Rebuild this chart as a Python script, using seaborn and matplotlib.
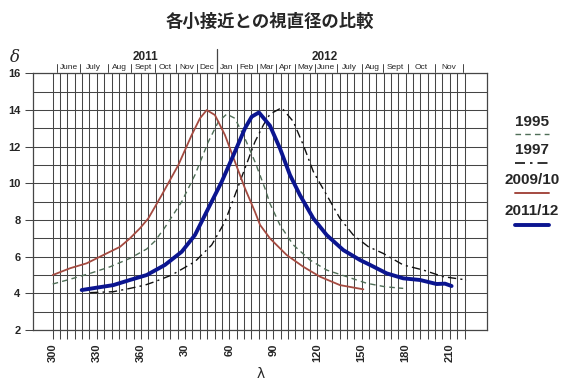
import numpy as np
import pandas as pd
import matplotlib
matplotlib.use("Agg")
import matplotlib.pyplot as plt
from matplotlib.lines import Line2D
import seaborn as sns

# --- data (lambda unwrapped: 300..360 then 360+) ---
lam_1995 = [300, 311.8, 325.4, 339, 352.5, 363.9, 369.5, 376.3, 387.7, 396.7, 405.8, 412.6, 418.3,
            423.9, 430.7, 437.5, 444.3, 447.7, 454.5, 463.6, 474.9, 486.3, 499.9, 513.5, 525.9, 538.3]
del_1995 = [4.51, 4.77, 5.09, 5.45, 5.91, 6.42, 6.85, 7.6, 9.0, 10.46, 12.27, 13.36, 13.78,
            13.55, 12.45, 11.18, 9.73, 8.9, 7.73, 6.64, 5.82, 5.27, 4.91, 4.55, 4.36, 4.27]

lam_1997 = [325.4, 341.2, 352.5, 362.7, 369.5, 380.9, 396.7, 408.1, 417.1, 423.9, 430.7, 437.5, 443.2,
            447.7, 455.7, 463.6, 470.4, 477.2, 486.3, 495.3, 504.4, 514.5, 524.7, 538.3, 552, 565.5, 581.4]
del_1997 = [4.04, 4.09, 4.27, 4.45, 4.64, 5.0, 5.73, 6.64, 7.91, 9.36, 10.82, 12.27, 13.18,
            13.78, 14.13, 13.37, 12.09, 10.64, 9.36, 8.09, 7.18, 6.55, 6.18, 5.55, 5.27, 4.91, 4.73]

lam_2009 = [300, 311.8, 323.1, 334.4, 345.8, 352.5, 359.3, 365, 374.1, 385.4, 394.5, 400.1, 404.7,
            410.3, 417.1, 423.9, 430.7, 437.5, 441, 447.7, 459.1, 470.4, 481.7, 495.3, 511.2]
del_2009 = [5.0, 5.37, 5.64, 6.09, 6.54, 7.0, 7.55, 8.09, 9.36, 11.0, 12.64, 13.55, 14.0,
            13.73, 12.64, 11.18, 9.73, 8.45, 7.73, 7.0, 6.09, 5.45, 4.91, 4.45, 4.22]

lam_2011 = [319.7, 329.9, 341.2, 352.5, 363.9, 376.3, 387.7, 396.7, 405.8, 414.9, 423.9, 430.7, 435.3,
            440.2, 447.7, 454.5, 461.3, 468.1, 477.2, 486.3, 497.6, 508.9, 515.8, 527.1, 538.3, 549.7,
            561, 566.7, 571.2]
del_2011 = [4.18, 4.31, 4.45, 4.73, 5.0, 5.55, 6.27, 7.18, 8.64, 10.09, 11.73, 13.0, 13.64,
            13.87, 13.15, 11.91, 10.46, 9.36, 8.09, 7.18, 6.36, 5.82, 5.55, 5.09, 4.82, 4.73,
            4.51, 4.53, 4.4]

tick_vals = [300, 330, 360, 390, 420, 450, 480, 510, 540, 570]
tick_labels = ["300", "330", "360", "30", "60", "90", "120", "150", "180", "210"]

month_names = ["June", "July", "Aug", "Sept", "Oct", "Nov", "Dec", "Jan", "Feb", "Mar", "Apr", "May",
               "June", "July", "Aug", "Sept", "Oct", "Nov"]
month_edges = [303.1, 318.6, 337.4, 353.2, 369.5, 383.8, 397.9, 411.5, 425.1, 438.7, 452.0, 465.0,
               478.6, 493.5, 510.1, 524.7, 541.7, 559.9, 578.7]
year_names = ["2011", "2012"]
year_pos = [362.8, 485.1]
year_break = 411.5

series = ["1995", "1997", "2009/10", "2011/12"]
colors = ["#4f6e57", "#111111", "#a44a40", "#0b1590"]

sns.set_style("white")
plt.rcParams["font.family"] = ["Liberation Sans", "Noto Sans CJK JP", "DejaVu Sans"]

fig = plt.figure(figsize=(5.76, 3.82), dpi=100)
ax = fig.add_axes([0.0573, 0.1361, 0.788, 0.6717])

# curves
sns.lineplot(x=lam_1995, y=del_1995, ax=ax, color=colors[0], lw=1.0, linestyle=(0, (4, 3)), sort=False)
sns.lineplot(x=lam_1997, y=del_1997, ax=ax, color=colors[1], lw=1.0, linestyle=(0, (6, 3, 1.5, 3)), sort=False)
sns.lineplot(x=lam_2009, y=del_2009, ax=ax, color=colors[2], lw=1.3, sort=False)
sns.lineplot(x=lam_2011, y=del_2011, ax=ax, color=colors[3], lw=2.8, sort=False)

grid_c = "#454545"
ax.set_xlim(286.6, 595.2)
ax.set_ylim(2, 16)
ax.set_xticks(tick_vals)
ax.set_xticklabels(tick_labels, rotation=90, fontsize=8, fontweight="bold")
ax.set_xticks(np.arange(300, 585, 5), minor=True)
ax.set_yticks(np.arange(2, 17, 2))
ax.set_yticklabels([str(v) for v in range(2, 17, 2)], fontsize=8, fontweight="bold")
ax.set_yticks(np.arange(3, 16, 2), minor=True)
ax.grid(True, which="both", color=grid_c, lw=0.75)
ax.tick_params(axis="x", which="both", direction="out", length=6.5, width=0.75, color=grid_c, pad=3, bottom=True)
ax.tick_params(axis="y", which="major", direction="out", length=6, width=0.75, color=grid_c, pad=3, left=True)
ax.tick_params(axis="y", which="minor", length=0)
for s in ax.spines.values():
    s.set_color(grid_c)
    s.set_linewidth(0.9)
ax.set_xlabel("")
ax.set_ylabel("")

# months / years above the frame
for e in month_edges:
    ax.plot([e, e], [16.07, 16.5], color=grid_c, lw=0.7, clip_on=False)
for i, name in enumerate(month_names):
    ax.text((month_edges[i] + month_edges[i + 1]) / 2, 16.3, name, ha="center", va="center",
            fontsize=6, clip_on=False)
ax.plot([year_break, year_break], [16, 17.35], color=grid_c, lw=0.9, clip_on=False)
for name, p in zip(year_names, year_pos):
    ax.text(p, 16.9, name, ha="center", va="center", fontsize=8.5, fontweight="bold")

fig.text(270 / 576, 1 - 22 / 382, "各小接近との視直径の比較", ha="center", va="center",
         fontsize=12.5, fontweight="bold", family=["Noto Sans CJK JP"])
fig.text(15 / 576, 1 - 57 / 382, "δ", ha="center", va="center", fontsize=12,
         family=["DejaVu Serif"], style="italic")
fig.text(261 / 576, 1 - 374 / 382, "λ", ha="center", va="center", fontsize=10, family=["DejaVu Sans"])

# legend drawn by hand on the right
leg_text_y = [122, 150, 180, 211]
leg_line_y = [134, 163, 193, 225]
styles = [(0, (4, 3)), (0, (6, 3, 1.5, 3)), "-", "-"]
widths = [1.0, 1.2, 1.4, 2.8]
for name, ty, ly, c, st, w in zip(series, leg_text_y, leg_line_y, colors, styles, widths):
    fig.text(532 / 576, 1 - ty / 382, name, ha="center", va="center", fontsize=11, fontweight="bold")
    fig.add_artist(Line2D([515 / 576, 549 / 576], [1 - ly / 382, 1 - ly / 382], color=c,
                          lw=w, linestyle=st, transform=fig.transFigure))

fig.savefig("out.png", dpi=100)
